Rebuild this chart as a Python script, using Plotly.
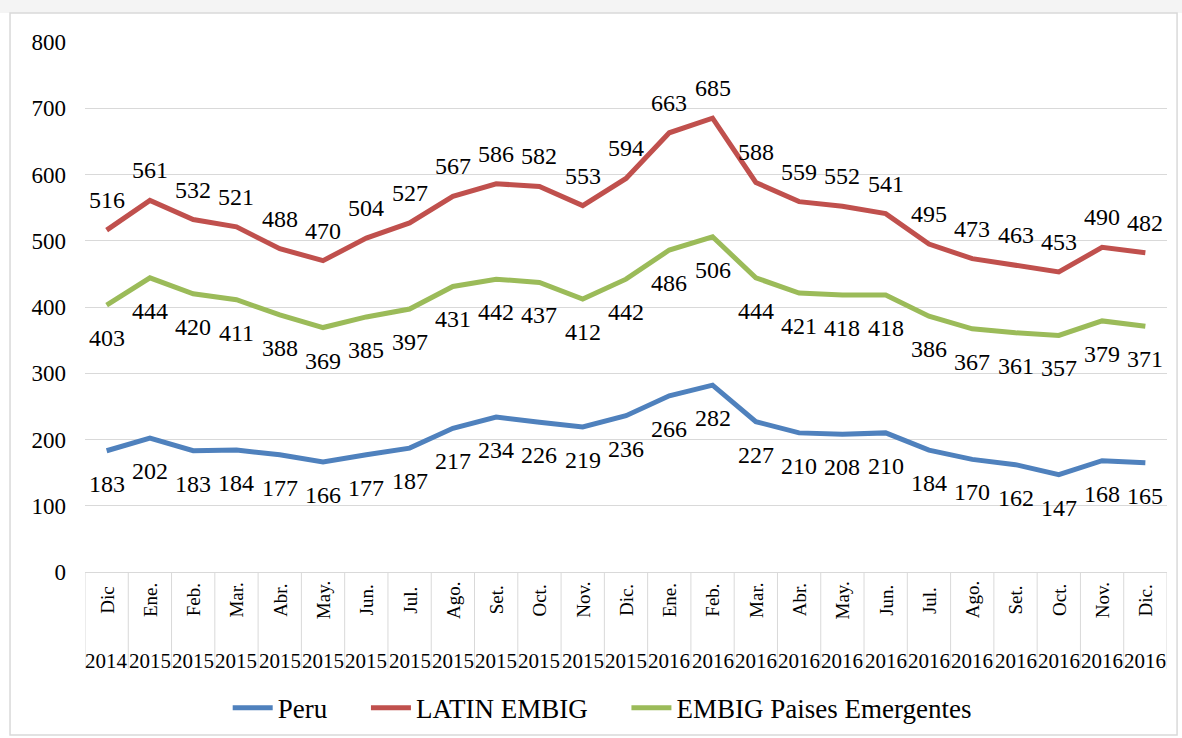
import plotly.graph_objects as go

# Spread (pbs) by month
months = ["Dic", "Ene.", "Feb.", "Mar.", "Abr.", "May.", "Jun.", "Jul.", "Ago.", "Set.", "Oct.", "Nov.", "Dic.",
          "Ene.", "Feb.", "Mar.", "Abr.", "May.", "Jun.", "Jul.", "Ago.", "Set.", "Oct.", "Nov.", "Dic."]
years = ["2014"] + ["2015"] * 12 + ["2016"] * 12

peru = [183, 202, 183, 184, 177, 166, 177, 187, 217, 234, 226, 219, 236,
        266, 282, 227, 210, 208, 210, 184, 170, 162, 147, 168, 165]
latin = [516, 561, 532, 521, 488, 470, 504, 527, 567, 586, 582, 553, 594,
         663, 685, 588, 559, 552, 541, 495, 473, 463, 453, 490, 482]
embig = [403, 444, 420, 411, 388, 369, 385, 397, 431, 442, 437, 412, 442,
         486, 506, 444, 421, 418, 418, 386, 367, 361, 357, 379, 371]

FONT = "Liberation Serif"
GRID = "#D9D9D9"
PAD = "\u00a0" * 5  # widen the gap between legend entries
xs = list(range(len(months)))

series = [
    ("Peru", peru, "#4F81BD", -33, PAD),
    ("LATIN EMBIG", latin, "#C0504D", 30, PAD),
    ("EMBIG Paises Emergentes", embig, "#9BBB59", -33, ""),
]

fig = go.Figure()
annotations = []
for name, vals, color, shift, pad in series:
    fig.add_trace(go.Scatter(
        x=xs, y=vals, mode="lines", name=name + pad,
        line=dict(color=color, width=5),
    ))
    for x, v in zip(xs, vals):
        annotations.append(dict(
            x=x, y=v, xref="x", yref="y", text=str(v), showarrow=False,
            yshift=shift, font=dict(family=FONT, size=24, color="black"),
        ))

# category labels under the axis
for x, m, yr in zip(xs, months, years):
    annotations.append(dict(
        x=x, y=-0.053, xref="x", yref="paper", text=m, showarrow=False,
        textangle=-90, xanchor="center", yanchor="middle",
        font=dict(family=FONT, size=19, color="black"),
    ))
    annotations.append(dict(
        x=x, y=-0.168, xref="x", yref="paper", text=yr, showarrow=False,
        xanchor="center", yanchor="middle",
        font=dict(family=FONT, size=21, color="black"),
    ))

shapes = []
for i in range(len(months) + 1):
    shapes.append(dict(
        type="line", xref="x", yref="paper", x0=i - 0.5, x1=i - 0.5, y0=0, y1=-0.183,
        line=dict(color=GRID, width=1),
    ))
# faint strip above the chart box
shapes.append(dict(
    type="rect", xref="paper", yref="paper", x0=-0.08, x1=1.02, y0=1.0547, y1=1.08,
    line=dict(width=0), fillcolor="#F4F4F4", layer="below",
))
# outer chart border
shapes.append(dict(
    type="rect", xref="paper", yref="paper", x0=-0.0693, x1=1.0093, y0=-0.3075, y1=1.0547,
    line=dict(color=GRID, width=1.5), fillcolor="white", layer="below",
))

fig.update_layout(
    width=1182, height=738,
    margin=dict(l=85, r=15, t=42, b=166, autoexpand=False),
    paper_bgcolor="white", plot_bgcolor="rgba(0,0,0,0)",
    font=dict(family=FONT, color="black"),
    showlegend=True,
    legend=dict(
        orientation="h", x=0.478, xanchor="center", y=-0.257, yanchor="middle",
        font=dict(family=FONT, size=27, color="black"),
        itemwidth=40,
    ),
    annotations=annotations,
    shapes=shapes,
)
fig.update_xaxes(
    range=[-0.5, len(months) - 0.5], showticklabels=False, showgrid=False,
    zeroline=False, showline=True, linecolor=GRID, linewidth=1, ticks="",
    automargin=False,
)
fig.update_yaxes(
    range=[0, 800], dtick=100, showgrid=True, gridcolor=GRID, gridwidth=1,
    zeroline=False, showline=False, ticks="", ticklabelstandoff=18,
    tickfont=dict(family=FONT, size=23, color="black"), automargin=False,
)

# drop the default body margin so the figure sits at the page origin
fig.write_html(
    "out.html",
    config={"displayModeBar": False},
    post_script="document.body.style.margin='0';",
)
